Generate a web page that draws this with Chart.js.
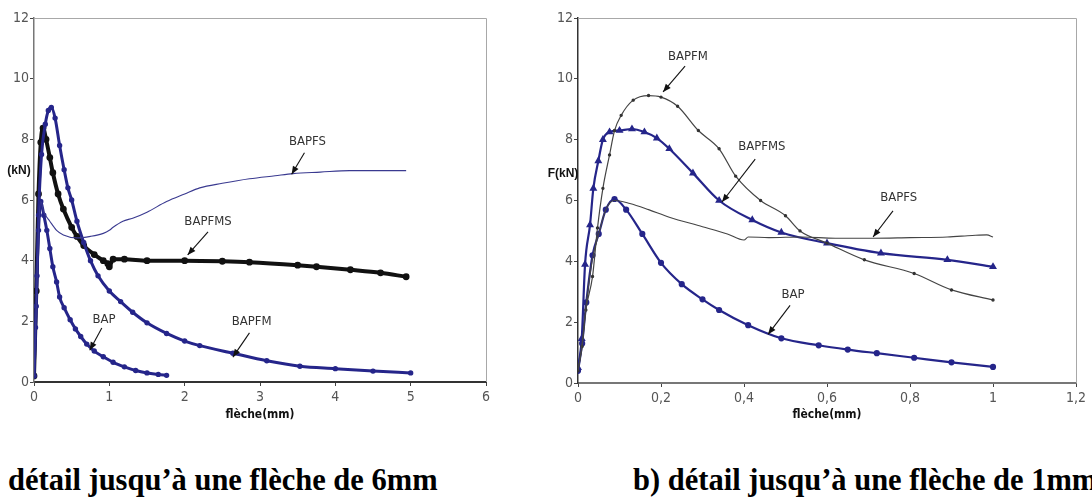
<!DOCTYPE html>
<html><head><meta charset="utf-8">
<script src="https://cdn.jsdelivr.net/npm/chart.js@4.4.1/dist/chart.umd.min.js"></script>
<style>
html,body{margin:0;padding:0;background:#fff;width:1092px;height:501px;overflow:hidden;position:relative;}
canvas{position:absolute;top:0;}
.cap{position:absolute;top:465px;font-family:'Liberation Serif','Times New Roman',serif;font-weight:bold;font-size:30.5px;line-height:30px;white-space:nowrap;color:#000;}
.yt{position:absolute;font-family:'Liberation Sans','Arial',sans-serif;font-weight:bold;font-size:12px;color:#111;white-space:nowrap;transform:translate(-50%,-50%);}
</style></head>
<body>
<canvas id="c1" width="546" height="430" style="left:0"></canvas>
<canvas id="c2" width="546" height="430" style="left:546px"></canvas>
<div class="yt" style="left:19px;top:170px">(kN)</div>
<div class="yt" style="left:563px;top:173px">F(kN)</div>
<div class="cap" style="left:8px">détail jusqu’à une flèche de 6mm</div>
<div class="cap" style="left:633px">b) détail jusqu’à une flèche de 1mm</div>
<script>
// ---------- Chart a) : flèche 0–6 mm ----------
const xTicksA = [0,1,2,3,4,5,6];
const yTicks = [0,2,4,6,8,10,12];

const bapA_x = [0,0.02,0.04,0.06,0.09,0.13,0.17,0.21,0.25,0.3,0.34,0.4,0.48,0.55,0.62,0.7,0.8,0.92,1.05,1.2,1.35,1.5,1.65,1.76];
const bapA_y = [0.2,1.8,3.5,5.0,5.95,5.5,5.0,4.4,3.8,3.3,2.8,2.45,2.05,1.75,1.5,1.25,1.02,0.83,0.65,0.5,0.38,0.3,0.25,0.22];

const bapfmA_x = [0,0.03,0.06,0.1,0.15,0.19,0.23,0.28,0.34,0.4,0.45,0.5,0.57,0.66,0.75,0.85,1.0,1.15,1.31,1.5,1.76,2.0,2.2,2.64,3.09,3.53,4.0,4.5,5.0];
const bapfmA_y = [0.2,2.5,5.5,7.5,8.5,8.95,9.05,8.7,7.8,7.0,6.4,6.0,5.3,4.6,4.0,3.5,3.0,2.65,2.3,1.95,1.6,1.35,1.2,0.95,0.7,0.52,0.44,0.36,0.3];

const bapfmsA_x = [0,0.03,0.06,0.09,0.12,0.16,0.21,0.25,0.32,0.39,0.5,0.57,0.66,0.8,0.92,0.98,1.0,1.05,1.2,1.5,2.0,2.5,2.86,3.5,3.75,4.2,4.6,4.94];
const bapfmsA_y = [0.2,3.0,6.2,7.9,8.37,8.0,7.4,6.9,6.2,5.7,5.1,4.8,4.5,4.2,4.0,3.9,3.8,4.05,4.05,4.0,4.0,3.98,3.95,3.85,3.8,3.7,3.6,3.47];

const bapfsA_x = [0,0.03,0.06,0.09,0.13,0.21,0.3,0.39,0.57,0.75,0.92,1.0,1.05,1.18,1.31,1.5,1.76,2.0,2.2,2.5,2.86,3.2,3.44,3.8,4.19,4.6,4.94];
const bapfsA_y = [0.2,2.5,5.0,5.95,5.6,5.3,5.0,4.85,4.75,4.8,4.9,5.0,5.1,5.3,5.4,5.6,5.95,6.2,6.4,6.55,6.7,6.8,6.87,6.92,6.97,6.97,6.97];

// ---------- Chart b) : flèche 0–1 mm ----------
const xTicksB = [0,0.2,0.4,0.6,0.8,1,1.2];

const bapB_x = [0,0.01,0.02,0.035,0.05,0.067,0.088,0.116,0.155,0.2,0.25,0.3,0.34,0.41,0.49,0.58,0.65,0.72,0.81,0.9,1.0];
const bapB_y = [0.4,1.3,2.65,4.2,4.9,5.7,6.05,5.7,4.9,3.95,3.25,2.75,2.4,1.9,1.47,1.24,1.1,0.98,0.83,0.68,0.53];

const bapfmsB_x = [0,0.009,0.017,0.029,0.037,0.049,0.06,0.076,0.1,0.13,0.16,0.19,0.22,0.277,0.34,0.42,0.49,0.6,0.73,0.89,1.0];
const bapfmsB_y = [0.5,1.46,3.9,5.2,6.4,7.3,8.0,8.25,8.3,8.35,8.25,8.05,7.7,6.9,6.0,5.36,4.95,4.6,4.27,4.05,3.82];

const bapfmB_x = [0,0.01,0.019,0.035,0.047,0.06,0.076,0.088,0.104,0.133,0.17,0.2,0.24,0.29,0.34,0.38,0.44,0.5,0.535,0.6,0.69,0.81,0.9,1.0];
const bapfmB_y = [0.4,1.2,2.4,3.5,5.1,6.4,7.5,8.3,8.8,9.3,9.45,9.4,9.1,8.3,7.7,6.8,6.0,5.5,5.0,4.6,4.05,3.6,3.06,2.73];

const bapfsB_x = [0,0.01,0.02,0.035,0.05,0.067,0.088,0.125,0.17,0.22,0.3,0.36,0.4,0.41,0.46,0.54,0.62,0.71,0.8,0.89,0.95,0.985,1.0];
const bapfsB_y = [0.4,1.3,2.6,4.1,4.9,5.7,6.0,5.9,5.7,5.45,5.14,4.9,4.7,4.8,4.78,4.8,4.76,4.76,4.78,4.8,4.85,4.87,4.8];

// annotations (label centre and arrow, in data units)
const notesA = [
  {text:'BAPFS',  tx:3.63, ty:7.92, x1:3.59, y1:7.56, x2:3.42, y2:6.85},
  {text:'BAPFMS', tx:2.31, ty:5.28, x1:2.31, y1:4.95, x2:2.04, y2:4.19},
  {text:'BAP',    tx:0.93, ty:2.05, x1:0.90, y1:1.78, x2:0.74, y2:1.05},
  {text:'BAPFM',  tx:2.89, ty:1.98, x1:2.86, y1:1.62, x2:2.64, y2:0.82}
];
const notesB = [
  {text:'BAPFM',  tx:0.265, ty:10.72, x1:0.258, y1:10.42, x2:0.205, y2:9.57},
  {text:'BAPFMS', tx:0.443, ty:7.76,  x1:0.427, y1:7.36,  x2:0.347, y2:5.95},
  {text:'BAPFS',  tx:0.773, ty:6.09,  x1:0.759, y1:5.66,  x2:0.711, y2:4.8},
  {text:'BAP',    tx:0.518, ty:2.89,  x1:0.511, y1:2.55,  x2:0.458, y2:1.6}
];

const pts = (xs, ys) => xs.map((x,i)=>({x, y: ys[i]}));
const NARROW = "'Liberation Sans Narrow','DejaVu Sans Condensed',sans-serif";
const NAVY = '#25258a';

const framePlugin = {
  id:'frame',
  beforeDatasetsDraw(chart){
    const {ctx, chartArea:a} = chart;
    ctx.save();
    ctx.strokeStyle = '#a8a8a8'; ctx.lineWidth = 1;
    ctx.beginPath();
    ctx.moveTo(a.left, Math.round(a.top)+0.5);
    ctx.lineTo(Math.round(a.right)+0.5, Math.round(a.top)+0.5);
    ctx.lineTo(Math.round(a.right)+0.5, a.bottom);
    ctx.stroke();
    ctx.restore();
  }
};
const notesPlugin = {
  id:'notes',
  afterDatasetsDraw(chart, args, opts){
    const {ctx} = chart; const xs = chart.scales.x, ys = chart.scales.y;
    ctx.save();
    (opts.items||[]).forEach(n=>{
      ctx.font = "13px " + NARROW; ctx.fillStyle = '#333';
      ctx.textAlign = 'center'; ctx.textBaseline = 'middle';
      ctx.fillText(n.text, xs.getPixelForValue(n.tx), ys.getPixelForValue(n.ty));
      const X1 = xs.getPixelForValue(n.x1), Y1 = ys.getPixelForValue(n.y1);
      const X2 = xs.getPixelForValue(n.x2), Y2 = ys.getPixelForValue(n.y2);
      ctx.strokeStyle = '#111'; ctx.lineWidth = 1.1;
      ctx.beginPath(); ctx.moveTo(X1,Y1); ctx.lineTo(X2,Y2); ctx.stroke();
      const ang = Math.atan2(Y2-Y1, X2-X1), L = 8, W = 3.2;
      ctx.fillStyle = '#111';
      ctx.beginPath();
      ctx.moveTo(X2,Y2);
      ctx.lineTo(X2 - L*Math.cos(ang) + W*Math.sin(ang), Y2 - L*Math.sin(ang) - W*Math.cos(ang));
      ctx.lineTo(X2 - L*Math.cos(ang) - W*Math.sin(ang), Y2 - L*Math.sin(ang) + W*Math.cos(ang));
      ctx.closePath(); ctx.fill();
    });
    ctx.restore();
  }
};

function makeChart(id, datasets, xTicks, xmax, yAxisW, padRight, xAxisH, xFmt, yLineColor, xLineColor, notes){
  return new Chart(document.getElementById(id), {
    type:'scatter',
    data:{datasets},
    options:{
      responsive:false, animation:false,
      layout:{padding:{left:0, top:18, right:padRight, bottom:0}},
      plugins:{legend:{display:false}, tooltip:{enabled:false}, notes:{items:notes}},
      elements:{line:{cubicInterpolationMode:'monotone'}},
      scales:{
        x:{type:'linear', min:0, max:xmax,
          afterBuildTicks:(s)=>{ s.ticks = xTicks.map(v=>({value:v})); },
          afterFit:(s)=>{ s.height = xAxisH; },
          ticks:{color:'#555', font:{family:NARROW, size:14}, padding:3, maxRotation:0, autoSkip:false,
                 callback:(v)=>xFmt(v)},
          grid:{display:true, drawOnChartArea:false, drawTicks:true, tickLength:4, color:'#444'},
          border:{display:true, color:xLineColor, width:2},
          title:{display:true, text:'flèche(mm)', color:'#111', font:{family:NARROW, size:12, weight:'bold'}, padding:{top:0,bottom:8}}
        },
        y:{type:'linear', min:0, max:12,
          afterBuildTicks:(s)=>{ s.ticks = yTicks.map(v=>({value:v})); },
          afterFit:(s)=>{ s.width = yAxisW; },
          ticks:{color:'#555', font:{family:NARROW, size:14}, padding:1},
          grid:{display:true, drawOnChartArea:false, drawTicks:true, tickLength:4, color:'#444'},
          border:{display:true, color:yLineColor, width:1.5}
        }
      }
    },
    plugins:[framePlugin, notesPlugin]
  });
}

makeChart('c1', [
  {label:'BAPFS',  data:pts(bapfsA_x,bapfsA_y),  showLine:true, borderColor:'#3a3a90', borderWidth:1.1, pointRadius:0},
  {label:'BAPFM',  data:pts(bapfmA_x,bapfmA_y),  showLine:true, borderColor:NAVY, borderWidth:3, pointRadius:1.2, pointBackgroundColor:NAVY, pointBorderColor:NAVY},
  {label:'BAP',    data:pts(bapA_x,bapA_y),      showLine:true, borderColor:NAVY, borderWidth:3, pointRadius:1.2, pointBackgroundColor:NAVY, pointBorderColor:NAVY},
  {label:'BAPFMS', data:pts(bapfmsA_x,bapfmsA_y),showLine:true, borderColor:'#111', borderWidth:4, pointRadius:1.4, pointBackgroundColor:'#111', pointBorderColor:'#111'}
], xTicksA, 6, 34, 60, 48, (v)=>String(v), '#777', '#333', notesA);

makeChart('c2', [
  {label:'BAPFS',  data:pts(bapfsB_x,bapfsB_y),  showLine:true, borderColor:'#444', borderWidth:1.1, pointRadius:0},
  {label:'BAPFM',  data:pts(bapfmB_x,bapfmB_y),  showLine:true, borderColor:'#444', borderWidth:1.2, pointRadius:1.1, pointBackgroundColor:'#333', pointBorderColor:'#333'},
  {label:'BAPFMS', data:pts(bapfmsB_x,bapfmsB_y),showLine:true, borderColor:NAVY, borderWidth:2.2, pointStyle:'triangle', pointRadius:2.4, pointBackgroundColor:NAVY, pointBorderColor:NAVY},
  {label:'BAP',    data:pts(bapB_x,bapB_y),      showLine:true, borderColor:NAVY, borderWidth:2.2, pointStyle:'circle', pointRadius:2, pointBackgroundColor:NAVY, pointBorderColor:NAVY}
], xTicksB, 1.2, 32, 16, 47, (v)=>String(Math.round(v*10)/10).replace('.',','), '#333', '#777', notesB);
</script>
</body></html>
